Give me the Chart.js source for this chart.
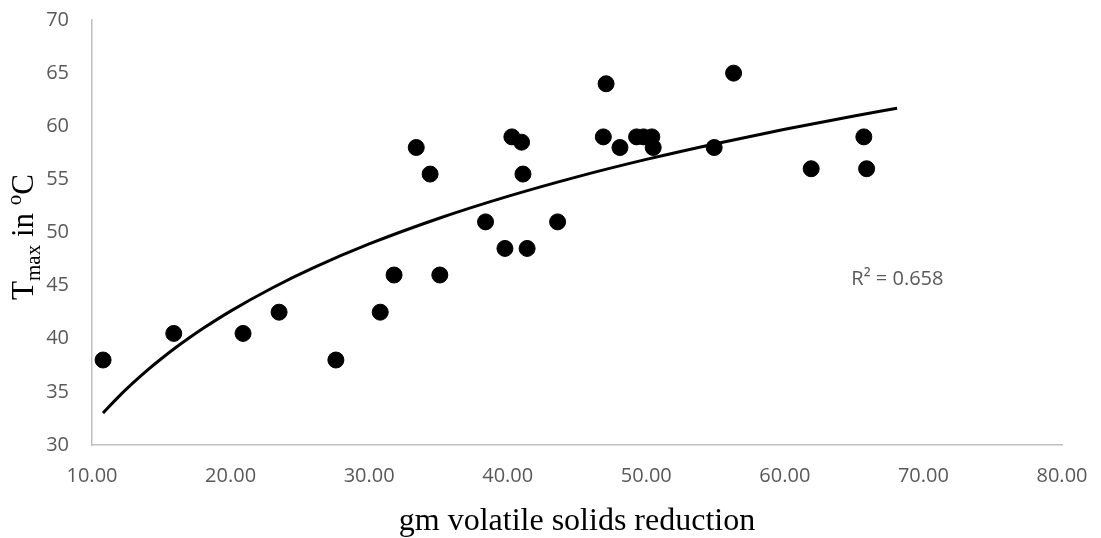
<!DOCTYPE html>
<html>
<head>
<meta charset="utf-8">
<script src="https://cdn.jsdelivr.net/npm/chart.js@4"></script>
<style>
  html, body { margin: 0; padding: 0; background: #fff; }
  #wrap { width: 1101px; height: 538px; position: relative; }
</style>
</head>
<body>
<div id="wrap"><canvas id="tmaxChart" width="1101" height="538"></canvas></div>
<script>
// measured points: gm volatile solids reduction vs Tmax (°C)
const volatileSolids = [10.8, 15.9, 20.9, 23.5, 27.6, 30.8, 31.8, 33.4, 34.4, 35.1,
    38.4, 39.8, 40.3, 41.0, 41.1, 41.4, 43.6, 46.9, 47.1, 48.1,
    49.3, 49.8, 50.4, 50.5, 54.9, 56.3, 61.9, 65.7, 65.9];
const tMax = [38, 40.5, 40.5, 42.5, 38, 42.5, 46, 58, 55.5, 46,
    51, 48.5, 59, 58.5, 55.5, 48.5, 51, 59, 64, 58,
    59, 59, 59, 58, 58, 65, 56, 59, 56];

// log trendline
const trendX = [10.8, 11, 12, 13, 14, 15, 16, 17, 18, 20, 23, 26, 30, 35, 40, 45, 50, 55, 60, 65, 68.1];
const trendY = [33.0, 33.29, 34.65, 35.89, 37.05, 38.12, 39.13, 40.07, 40.96, 42.6, 44.78, 46.69, 48.92, 51.32, 53.4, 55.24, 56.88, 58.36, 59.72, 60.97, 61.69];

const xTicks = [10, 20, 30, 40, 50, 60, 70, 80];
const yTicks = [30, 35, 40, 45, 50, 55, 60, 65, 70];
const r2Text = 'R² = 0.658';

const TICK_FONT = { family: '"Open Sans", sans-serif', size: 20 };
const TICK_COLOR = '#595959';
const AXIS_COLOR = '#bfbfbf';
const SERIF = '"Liberation Serif", "Times New Roman", serif';

// kill chart.js' own label overflow padding so layout.padding decides the plot box
function noPad(s) {
    s.paddingTop = 0; s.paddingBottom = 0; s.paddingLeft = 0; s.paddingRight = 0;
}

// axis titles + R² note, drawn by hand (need sub/superscript)
const labelsPlugin = {
    id: 'labels',
    afterDraw(chart) {
        const { ctx, chartArea, scales } = chart;
        ctx.save();
        ctx.fillStyle = '#000';
        ctx.textBaseline = 'alphabetic';

        // x title
        ctx.font = `32px ${SERIF}`;
        ctx.textAlign = 'center';
        ctx.fillText('gm volatile solids reduction', (chartArea.left + chartArea.right) / 2, 530);

        // y title: T_max in °C, rotated
        const big = `31px ${SERIF}`, small = `21px ${SERIF}`;
        const parts = [
            { t: 'T', f: big, dy: 0 },
            { t: 'max', f: small, dy: 7 },
            { t: ' in ', f: big, dy: 0 },
            { t: 'o', f: small, dy: -12 },
            { t: 'C', f: big, dy: 0 }
        ];
        let total = 0;
        parts.forEach(p => { ctx.font = p.f; p.w = ctx.measureText(p.t).width; total += p.w; });
        ctx.translate(33, 237);
        ctx.rotate(-Math.PI / 2);
        ctx.textAlign = 'left';
        let cx = -total / 2;
        parts.forEach(p => {
            ctx.font = p.f;
            ctx.fillText(p.t, cx, p.dy);
            cx += p.w;
        });
        ctx.restore();

        // R² label
        ctx.save();
        ctx.font = `20px "Open Sans", sans-serif`;
        ctx.fillStyle = TICK_COLOR;
        ctx.textAlign = 'left';
        ctx.textBaseline = 'middle';
        ctx.fillText(r2Text, scales.x.getPixelForValue(64.8), scales.y.getPixelForValue(45.6));
        ctx.restore();
    }
};

const points = volatileSolids.map((x, i) => ({ x: x, y: tMax[i] }));
const trend = trendX.map((x, i) => ({ x: x, y: trendY[i] }));

new Chart(document.getElementById('tmaxChart'), {
    type: 'scatter',
    data: {
        datasets: [
            {
                label: 'Log trend',
                data: trend,
                showLine: true,
                borderColor: '#000',
                borderWidth: 3,
                pointRadius: 0,
                cubicInterpolationMode: 'monotone',
                order: 0
            },
            {
                label: 'Tmax',
                data: points,
                backgroundColor: '#000',
                borderColor: '#000',
                pointRadius: 8,
                pointHoverRadius: 8,
                order: 1
            }
        ]
    },
    options: {
        responsive: false,
        animation: false,
        layout: { padding: { top: 20, right: 39, left: 0, bottom: 0 } },
        plugins: { legend: { display: false }, tooltip: { enabled: false } },
        scales: {
            x: {
                type: 'linear',
                min: 10, max: 80,
                afterBuildTicks: s => { s.ticks = xTicks.map(v => ({ value: v })); },
                afterFit: s => { s.height = 93; noPad(s); },
                grid: { display: false, drawTicks: false },
                border: { display: true, color: AXIS_COLOR, width: 1.5 },
                ticks: {
                    color: TICK_COLOR, font: TICK_FONT, padding: 19, maxRotation: 0,
                    callback: v => Number(v).toFixed(2)
                }
            },
            y: {
                type: 'linear',
                min: 30, max: 70,
                afterBuildTicks: s => { s.ticks = yTicks.map(v => ({ value: v })); },
                afterFit: s => { s.width = 92; noPad(s); },
                grid: { display: false, drawTicks: false },
                border: { display: true, color: AXIS_COLOR, width: 1.5 },
                ticks: { color: TICK_COLOR, font: TICK_FONT, padding: 23 }
            }
        }
    },
    plugins: [labelsPlugin]
});
</script>
</body>
</html>
